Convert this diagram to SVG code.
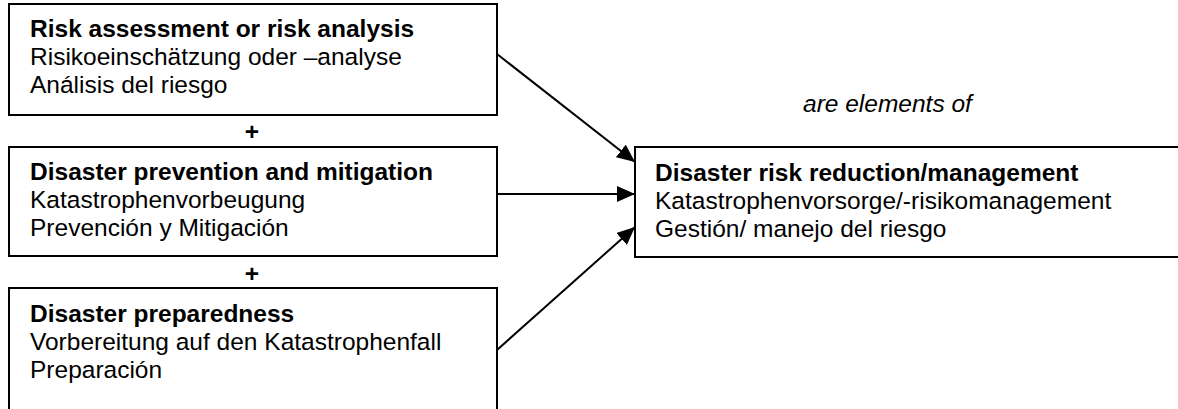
<svg xmlns="http://www.w3.org/2000/svg" width="1178" height="409" viewBox="0 0 1178 409">
<defs>
<style>
.box{fill:#fff;stroke:#000;stroke-width:2}
.t{font-family:"Liberation Sans",Arial,sans-serif;font-size:24.5px;fill:#000}
.b{font-weight:bold}
.conn{stroke:#000;stroke-width:2;fill:none;marker-end:url(#ah)}
</style>
<marker id="ah" viewBox="0 0 18 16" refX="18" refY="8" markerWidth="18" markerHeight="16" markerUnits="userSpaceOnUse" orient="auto">
<path d="M0,0 L18,8 L0,16 z" fill="#000"/>
</marker>
</defs>
<rect width="1178" height="409" fill="#fff"/>
<g id="n1">
<rect class="box" x="9" y="4" width="488" height="111"/>
<text class="t b" x="30" y="37">Risk assessment or risk analysis</text>
<text class="t" x="30" y="65">Risikoeinschätzung oder –analyse</text>
<text class="t" x="30" y="93">Análisis del riesgo</text>
</g>
<g id="plus1"><text class="t b" x="252" y="140" text-anchor="middle">+</text></g>
<g id="n2">
<rect class="box" x="9" y="147" width="488" height="109"/>
<text class="t b" x="30" y="180">Disaster prevention and mitigation</text>
<text class="t" x="30" y="208">Katastrophenvorbeugung</text>
<text class="t" x="30" y="236">Prevención y Mitigación</text>
</g>
<g id="plus2"><text class="t b" x="252" y="282" text-anchor="middle">+</text></g>
<g id="n3">
<rect class="box" x="9" y="288" width="488" height="140"/>
<text class="t b" x="30" y="322">Disaster preparedness</text>
<text class="t" x="30" y="350">Vorbereitung auf den Katastrophenfall</text>
<text class="t" x="30" y="378">Preparación</text>
</g>
<g id="n4">
<rect class="box" x="635" y="147" width="560" height="110"/>
<text class="t b" x="655" y="181">Disaster risk reduction/management</text>
<text class="t" x="655" y="209">Katastrophenvorsorge/-risikomanagement</text>
<text class="t" x="655" y="237">Gestión/ manejo del riesgo</text>
</g>
<g id="label"><text class="t" x="803" y="112" font-style="italic">are elements of</text></g>
<g id="connectors">
<line class="conn" x1="497" y1="54" x2="635" y2="162"/>
<line class="conn" x1="497" y1="194" x2="635" y2="194"/>
<line class="conn" x1="497" y1="350" x2="635" y2="227"/>
</g>
</svg>
